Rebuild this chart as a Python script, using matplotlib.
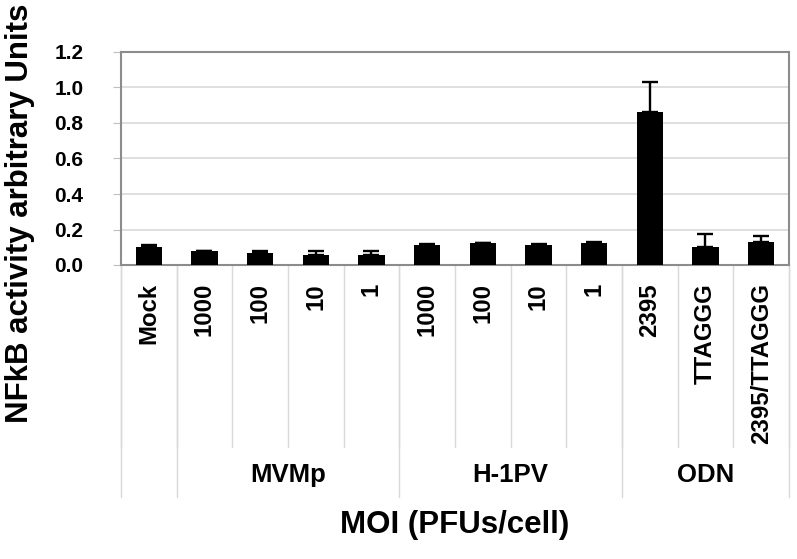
import matplotlib
matplotlib.use("Agg")
import matplotlib.pyplot as plt

plt.rcParams['font.family'] = ['Liberation Sans', 'DejaVu Sans']
plt.rcParams['font.weight'] = 'bold'

# bar labels, values
categories = ['Mock', '1000', '100', '10', '1', '1000', '100', '10', '1',
              '2395', 'TTAGGG', '2395/TTAGGG']
values = [0.103, 0.080, 0.069, 0.058, 0.058, 0.111, 0.122, 0.111, 0.122,
          0.86, 0.10, 0.131]
errors = [0.008, 0.0, 0.01, 0.02, 0.02, 0.01, 0.0, 0.01, 0.01,
          0.17, 0.075, 0.03]

# second level of the category axis
group_labels = ['', 'MVMp', 'H-1PV', 'ODN']
group_sizes = [1, 4, 4, 3]

fig = plt.figure(figsize=(7.97, 5.59), dpi=100)
ax = fig.add_axes([121 / 797, 1 - 265 / 559, 668 / 797, 213 / 559])

x = list(range(len(categories)))
ax.bar(x, values, width=0.47, color='black', zorder=3,
       yerr=[[0] * len(errors), errors],
       error_kw=dict(ecolor='black', elinewidth=1.7, capsize=5.5, capthick=1.7))

ax.set_xlim(-0.5, len(categories) - 0.5)
ax.set_ylim(0, 1.2)
ax.set_yticks([0, 0.2, 0.4, 0.6, 0.8, 1.0, 1.2])
ax.set_yticklabels(['0.0', '0.2', '0.4', '0.6', '0.8', '1.0', '1.2'])
ax.tick_params(axis='y', labelsize=15, length=6, color='#bfbfbf', pad=21)
ax.set_xticks([])
ax.grid(axis='y', color='#d9d9d9', linewidth=1.2, zorder=0)
for s in ax.spines.values():
    s.set_color('#8c8c8c')
    s.set_linewidth(1.5)

trans = ax.get_xaxis_transform()
sep = '#d9d9d9'

# category labels and inner separators
for i, lab in enumerate(categories):
    ax.text(i, -0.085, lab, rotation=90, ha='center', va='top',
            fontsize=17.3, transform=trans)
for i in range(len(categories) + 1):
    ax.plot([i - 0.5, i - 0.5], [0, -0.855], color=sep, lw=1.0,
            transform=trans, clip_on=False)

# group labels and outer separators
start = 0
for name, n in zip(group_labels, group_sizes):
    ax.plot([start - 0.5, start - 0.5], [0, -1.09], color=sep, lw=1.0,
            transform=trans, clip_on=False)
    if name:
        ax.text(start + (n - 1) / 2, -0.985, name, ha='center', va='center',
                fontsize=18.5, transform=trans)
    start += n
ax.plot([start - 0.5, start - 0.5], [0, -1.09], color=sep, lw=1.0,
        transform=trans, clip_on=False)

fig.text(455 / 797, 1 - 525 / 559, 'MOI (PFUs/cell)', ha='center',
         va='center', fontsize=22.5)
fig.text(20 / 797, 1 - 213 / 559, 'NFkB activity arbitrary Units',
         rotation=90, ha='center', va='center', fontsize=22.5)

fig.savefig('out.png', dpi=100)
